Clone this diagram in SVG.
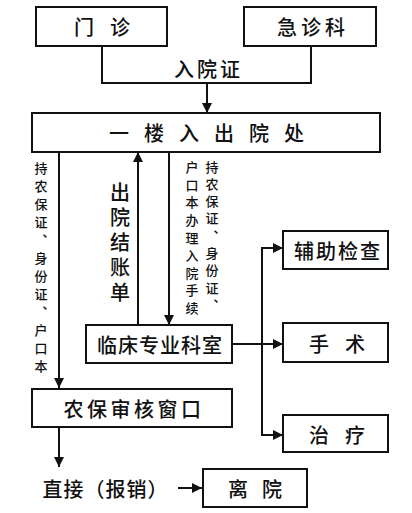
<svg xmlns="http://www.w3.org/2000/svg" width="412" height="513" viewBox="0 0 412 513">
<defs>
<marker id="ah" viewBox="0 0 10 10" refX="10" refY="5" markerWidth="10" markerHeight="10" markerUnits="userSpaceOnUse" orient="auto">
<path d="M0,0 L10,5 L0,10 Z" fill="#111"/>
</marker>
<style>
.box{fill:#fff;stroke:#111;stroke-width:2}
.t{font-family:"Noto Sans CJK SC","Noto Sans",sans-serif;font-size:20px;font-weight:500;fill:#111;text-anchor:middle;dominant-baseline:central}
.v{font-family:"Noto Sans CJK SC","Noto Sans",sans-serif;font-weight:500;fill:#111;text-anchor:middle;writing-mode:vertical-rl}
.ln{fill:none;stroke:#111;stroke-width:2}
</style>
</defs>
<rect width="412" height="513" fill="#fff"/>
<g id="connectors">
<polyline class="ln" points="102,46 102,83 311,83 311,46"/>
<line class="ln" x1="207" y1="83" x2="207" y2="113" marker-end="url(#ah)"/>
<line class="ln" x1="59" y1="152" x2="59" y2="388" marker-end="url(#ah)"/>
<line class="ln" x1="138" y1="325" x2="138" y2="152" marker-end="url(#ah)"/>
<line class="ln" x1="169" y1="152" x2="169" y2="325" marker-end="url(#ah)"/>
<line class="ln" x1="232" y1="344" x2="283" y2="344" marker-end="url(#ah)"/>
<polyline class="ln" points="262,344 262,248 283,248" marker-end="url(#ah)"/>
<polyline class="ln" points="262,344 262,435 283,435" marker-end="url(#ah)"/>
<line class="ln" x1="59" y1="427" x2="59" y2="467" marker-end="url(#ah)"/>
<line class="ln" x1="178" y1="488" x2="202" y2="488" marker-end="url(#ah)"/>
<text class="t" x="207" y="68" letter-spacing="3" dx="1.5">入院证</text>
<text class="v" x="120" y="245" font-size="20" letter-spacing="5">出院结账单</text>
<text class="v" x="41" y="270" font-size="13" letter-spacing="5">持农保证、身份证、户口本</text>
<text class="v" x="212" y="238" font-size="13" letter-spacing="4.3">持农保证、身份证、</text>
<text class="v" x="192" y="240" font-size="13" letter-spacing="4.6">户口本办理入院手续</text>
<text class="t" x="105" y="488" letter-spacing="1" dx="0.5">直接（报销）</text>
</g>
<g id="menzhen"><rect class="box" x="36" y="7" width="131" height="39"/><text class="t" x="102" y="26" letter-spacing="16" dx="8">门诊</text></g>
<g id="jizhenke"><rect class="box" x="244" y="7" width="132" height="39"/><text class="t" x="311" y="26" letter-spacing="4" dx="2">急诊科</text></g>
<g id="ruchuyuan"><rect class="box" x="32" y="113" width="348" height="39"/><text class="t" x="207" y="132" letter-spacing="15" dx="7">一楼入出院处</text></g>
<g id="linchuang"><rect class="box" x="86" y="325" width="146" height="38"/><text class="t" x="160" y="344" letter-spacing="1">临床专业科室</text></g>
<g id="fuzhu"><rect class="box" x="283" y="231" width="105" height="38"/><text class="t" x="337" y="250" letter-spacing="2" dx="1">辅助检查</text></g>
<g id="shoushu"><rect class="box" x="283" y="323" width="105" height="39"/><text class="t" x="337" y="343" letter-spacing="16" dx="8">手术</text></g>
<g id="zhiliao"><rect class="box" x="283" y="415" width="105" height="37"/><text class="t" x="337" y="434" letter-spacing="16" dx="8">治疗</text></g>
<g id="nongbao"><rect class="box" x="32" y="389" width="200" height="38"/><text class="t" x="132" y="408" letter-spacing="3.5" dx="2">农保审核窗口</text></g>
<g id="liyuan"><rect class="box" x="203" y="469" width="104" height="38"/><text class="t" x="255" y="488" letter-spacing="14" dx="7">离院</text></g>
</svg>
